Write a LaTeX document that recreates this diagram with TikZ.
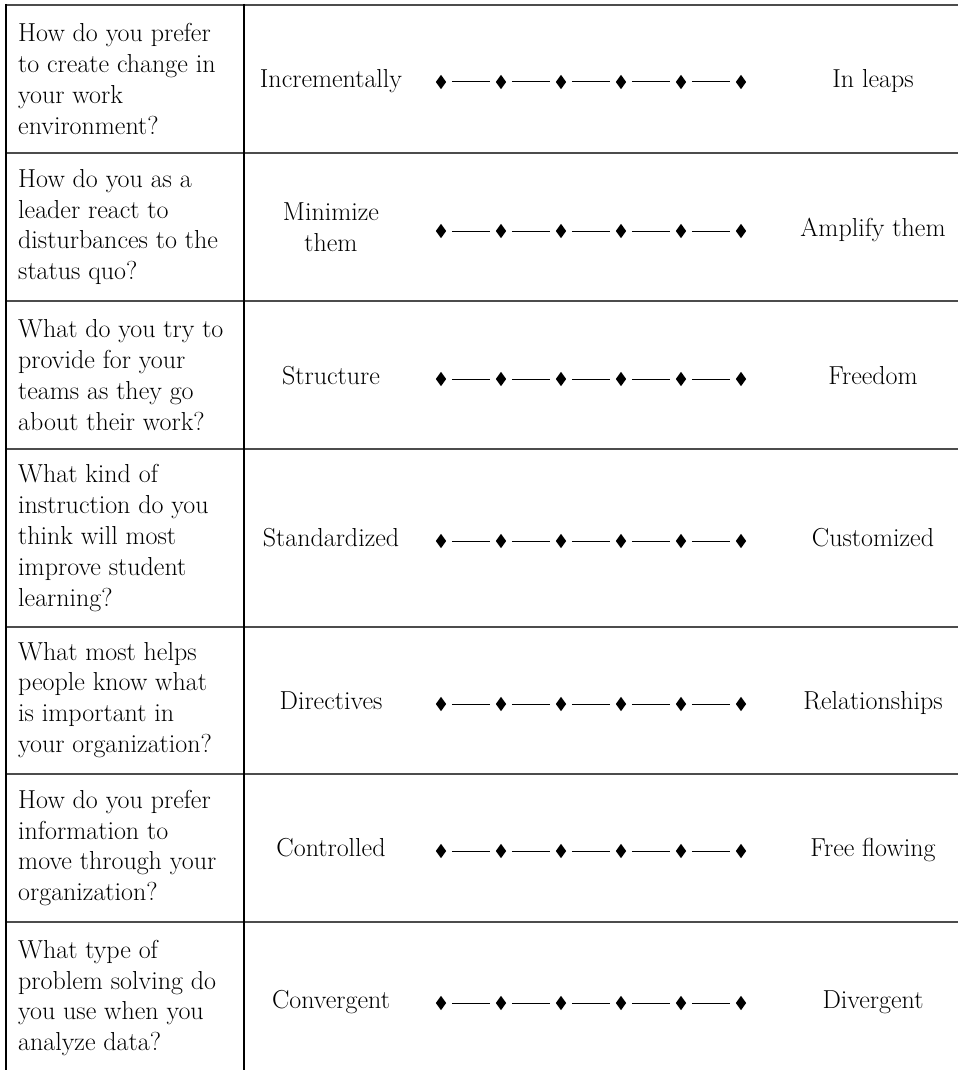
\documentclass[tikz,border=0pt]{standalone}
\usetikzlibrary{shapes.geometric}
\begin{document}
\begin{tikzpicture}[x=1pt,y=-1pt,
  qtext/.style={anchor=west,align=left,inner sep=0pt,font=\fontsize{26}{30.8}\selectfont},
  lab/.style={align=center,inner sep=0pt,font=\fontsize{26}{30.8}\selectfont},
  dia/.style={diamond,fill=black,inner sep=0pt,minimum width=10.5pt,minimum height=14.5pt},
  link/.style={line width=1pt,shorten >=5.5pt,shorten <=5.5pt},
  sep/.style={line width=2pt,draw=black!70},
  vline/.style={line width=1.3pt,draw=black}]
\useasboundingbox (0,0) rectangle (958,1070);
% table lines
\foreach \y in {5,153,301,449,627,774,922}
  \draw[sep] (6,\y) -- (958,\y);
\draw[vline] (6,4) -- (6,1070);
\draw[vline] (244,4) -- (244,1070);
% rows: name / row centre / diamond y / question / left / right
\foreach \r/\yc/\yd/\q/\ll/\rl in {
  1/79/82/{How do you prefer\\to create change in\\your work\\environment?}/{Incrementally}/{In leaps},
  2/227/231/{How do you as a\\leader react to\\disturbances to the\\status quo?}/{Minimize\\them}/{Amplify them},
  3/375/379/{What do you try to\\provide for your\\teams as they go\\about their work?}/{Structure}/{Freedom},
  4/538/541/{What kind of\\instruction do you\\think will most\\improve student\\learning?}/{Standardized}/{Customized},
  5/700/704/{What most helps\\people know what\\is important in\\your organization?}/{Directives}/{Relationships},
  6/848/851/{How do you prefer\\information to\\move through your\\organization?}/{Controlled}/{Free flowing},
  7/998/1003/{What type of\\problem solving do\\you use when you\\analyze data?}/{Convergent}/{Divergent}}
{
  \node[qtext] (q\r) at (18,\yc) {\q};
  \node[lab] (l\r) at (331,\yd-1) {\ll\vphantom{g}};
  \node[lab] (r\r) at (873,\yd-1) {\rl\vphantom{g}};
  \foreach \i in {0,...,5}
    \node[dia] (d\r-\i) at ({441+60*\i},\yd) {};
  \foreach \i [count=\j from 1] in {0,...,4}
    \draw[link] (d\r-\i) -- (d\r-\j);
}
\end{tikzpicture}
\end{document}
